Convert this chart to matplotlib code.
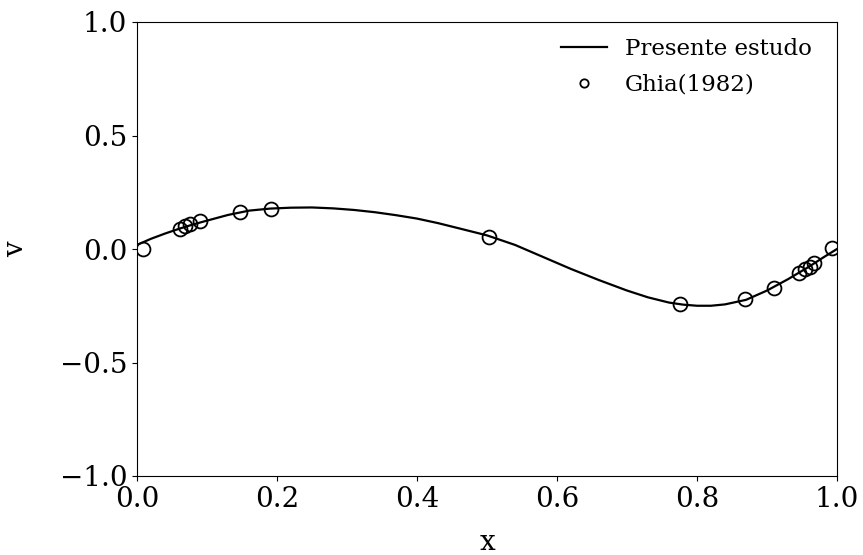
import numpy as np
import matplotlib
matplotlib.use("Agg")
import matplotlib.pyplot as plt

plt.rcParams.update({
    "font.family": "DejaVu Serif",
    "font.size": 20,
    "mathtext.fontset": "dejavuserif",
})

# present study: v along horizontal centreline
x_line = [0.0, 0.02, 0.04, 0.06, 0.08, 0.10, 0.13, 0.16, 0.19, 0.22, 0.25,
          0.28, 0.31, 0.34, 0.37, 0.40, 0.43, 0.46, 0.50, 0.54, 0.58, 0.62,
          0.66, 0.70, 0.73, 0.76, 0.78, 0.80, 0.82, 0.84, 0.87, 0.90, 0.93,
          0.96, 0.98, 1.0]
v_line = [0.018, 0.045, 0.068, 0.089, 0.108, 0.125, 0.150, 0.169, 0.178,
          0.182, 0.183, 0.179, 0.172, 0.162, 0.149, 0.134, 0.114, 0.091,
          0.060, 0.018, -0.035, -0.088, -0.137, -0.183, -0.213, -0.236,
          -0.245, -0.250, -0.250, -0.244, -0.224, -0.183, -0.133, -0.078,
          -0.038, 0.0]

# Ghia (1982) reference points
x_ghia = [0.009, 0.061, 0.069, 0.075, 0.090, 0.147, 0.191, 0.503, 0.776,
          0.869, 0.910, 0.945, 0.954, 0.961, 0.967, 0.993]
v_ghia = [0.000, 0.087, 0.101, 0.110, 0.125, 0.164, 0.178, 0.054, -0.244,
          -0.222, -0.170, -0.104, -0.089, -0.078, -0.063, 0.003]

fig = plt.figure(figsize=(8.63, 5.55), dpi=100)
ax = fig.add_axes([137 / 863, 1 - 476 / 555, 700 / 863, 454 / 555])

ax.plot(x_line, v_line, color="black", linewidth=1.6, label="Presente estudo")
ax.plot(x_ghia, v_ghia, linestyle="none", marker="o", markersize=10,
        markerfacecolor="none", markeredgecolor="black", markeredgewidth=1.3,
        label="Ghia(1982)")

ax.set_xlim(0, 1)
ax.set_ylim(-1, 1)
ax.set_xticks([0.0, 0.2, 0.4, 0.6, 0.8, 1.0])
ax.set_yticks([-1.0, -0.5, 0.0, 0.5, 1.0])
ax.set_xlabel("x", labelpad=12)
ax.set_ylabel("v", labelpad=22)

ax.legend(loc="upper right", bbox_to_anchor=(0.977, 0.985), borderaxespad=0,
          frameon=False, fontsize=16.5, markerscale=0.6, labelspacing=0.6)

fig.savefig("out.png", dpi=100)
